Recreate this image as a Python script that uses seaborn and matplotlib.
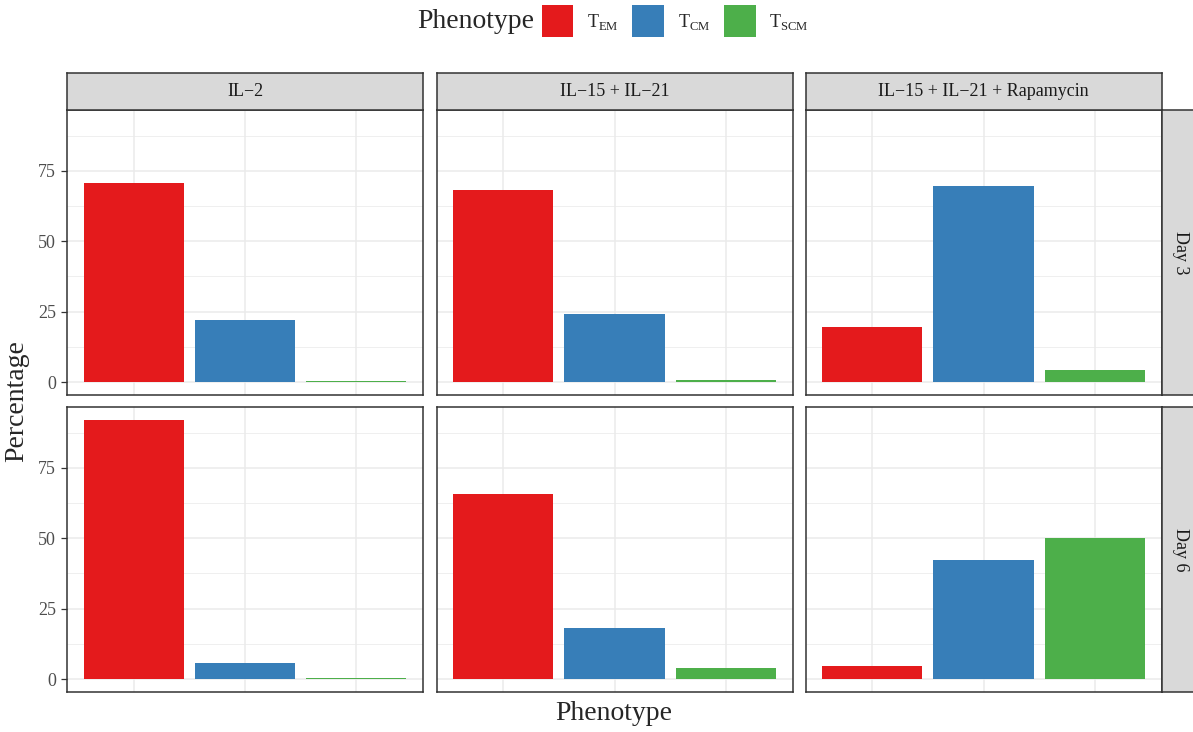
import matplotlib
matplotlib.use("Agg")
import matplotlib.pyplot as plt
from matplotlib.patches import Patch
from matplotlib.ticker import FixedLocator, NullFormatter
import numpy as np
import pandas as pd
import seaborn as sns

# --- data -----------------------------------------------------------------
treatments = ["IL\u22122", "IL\u221215 + IL\u221221", "IL\u221215 + IL\u221221 + Rapamycin"]
days = ["Day 3", "Day 6"]
phenotypes = ["TEM", "TCM", "TSCM"]
phenotype_labels = [r"T$_\mathregular{EM}$", r"T$_\mathregular{CM}$", r"T$_\mathregular{SCM}$"]

# percentages per treatment (IL-2, IL-15+IL-21, IL-15+IL-21+Rapamycin)
day3_tem = [70.7, 68.3, 19.7]
day3_tcm = [21.9, 24.3, 69.7]
day3_tscm = [0.3, 0.7, 4.1]
day6_tem = [92.0, 65.8, 4.5]
day6_tcm = [5.6, 18.3, 42.4]
day6_tscm = [0.2, 3.8, 50.2]

colors = ["#E41A1C", "#377EB8", "#4DAF4A"]

rows = []
for day, series in zip(days, [(day3_tem, day3_tcm, day3_tscm), (day6_tem, day6_tcm, day6_tscm)]):
    for ph, vals in zip(phenotypes, series):
        for tr, v in zip(treatments, vals):
            rows.append({"Day": day, "Treatment": tr, "Phenotype": ph, "Percentage": v})
df = pd.DataFrame(rows)

# --- style ----------------------------------------------------------------
sns.set_theme(style="white")
plt.rcParams["font.family"] = ["Liberation Serif", "DejaVu Serif"]
plt.rcParams["mathtext.fontset"] = "custom"
plt.rcParams["mathtext.rm"] = "Liberation Serif"

W, H = 1193, 732
fig = plt.figure(figsize=(W / 100, H / 100), dpi=100)
fig.patch.set_facecolor("white")


def ax_at(x0, y0, x1, y1):
    return fig.add_axes([x0 / W, 1 - y1 / H, (x1 - x0) / W, (y1 - y0) / H])


col_x = [(67, 423), (436.5, 792.5), (805.5, 1161.5)]
row_y = [(110, 395), (407, 692)]
border = "#333333"
grid_c = "#EBEBEB"
strip_fill = "#D9D9D9"
palette = dict(zip(phenotypes, colors))


def style_strip(sax):
    sax.set_facecolor(strip_fill)
    sax.set_xticks([])
    sax.set_yticks([])
    for s in sax.spines.values():
        s.set_visible(True)
        s.set_color(border)
        s.set_linewidth(1.1)


for r, day in enumerate(days):
    for c, tr in enumerate(treatments):
        ax = ax_at(col_x[c][0], row_y[r][0], col_x[c][1], row_y[r][1])
        sub = df[(df["Day"] == day) & (df["Treatment"] == tr)]
        sns.barplot(data=sub, x="Phenotype", y="Percentage", hue="Phenotype",
                    order=phenotypes, hue_order=phenotypes, palette=palette,
                    width=0.9, saturation=1, linewidth=0, errorbar=None,
                    legend=False, ax=ax)
        ax.set_xlim(-0.6, 2.6)
        ax.set_ylim(-4.6, 96.6)
        ax.set_xlabel("")
        ax.set_ylabel("")
        ax.set_facecolor("white")
        ax.set_axisbelow(True)
        ax.set_yticks([0, 25, 50, 75])
        ax.yaxis.set_minor_locator(FixedLocator([12.5, 37.5, 62.5, 87.5]))
        ax.yaxis.set_minor_formatter(NullFormatter())
        ax.set_xticks([0, 1, 2])
        ax.set_xticklabels([])
        ax.grid(which="major", color=grid_c, lw=1.1)
        ax.grid(which="minor", axis="y", color=grid_c, lw=0.55)
        ax.tick_params(axis="x", length=0)
        ax.tick_params(axis="y", which="minor", length=0)
        if c == 0:
            ax.tick_params(axis="y", which="major", length=4.3, width=0.9,
                           color=border, labelsize=13, labelcolor="#4D4D4D", pad=3.5,
                           left=True)
        else:
            ax.tick_params(axis="y", which="major", length=0, labelleft=False)
        for s in ax.spines.values():
            s.set_visible(True)
            s.set_color(border)
            s.set_linewidth(1.1)

        # column strips
        if r == 0:
            sax = ax_at(col_x[c][0], 73, col_x[c][1], 110)
            style_strip(sax)
            sax.text(0.5, 0.5, tr, ha="center", va="center", fontsize=13,
                     color="#1A1A1A", transform=sax.transAxes)
    # row strips
    rax = ax_at(1161.5, row_y[r][0], 1199, row_y[r][1])
    style_strip(rax)
    rax.text(19 / 37.5, 0.5, day, ha="center", va="center", rotation=270,
             fontsize=13, color="#1A1A1A", transform=rax.transAxes)

# axis titles
fig.text(17 / W, 1 - 401 / H, "Percentage", rotation=90, ha="center", va="center",
         fontsize=20)
fig.text(614 / W, 1 - 713 / H, "Phenotype", ha="center", va="center", fontsize=20)

# legend
handles = [Patch(facecolor=col, edgecolor="none", label=lab)
           for col, lab in zip(colors, phenotype_labels)]
fig.legend(handles=handles, loc="center", bbox_to_anchor=(675 / W, 1 - 21 / H),
           ncol=3, frameon=False, fontsize=13, handlelength=1.77, handleheight=2.35,
           handletextpad=0.75, columnspacing=0.75, borderpad=0, borderaxespad=0)
fig.text(534 / W, 1 - 21 / H, "Phenotype", ha="right", va="center", fontsize=20)

fig.savefig("out.png", dpi=100, facecolor="white")
